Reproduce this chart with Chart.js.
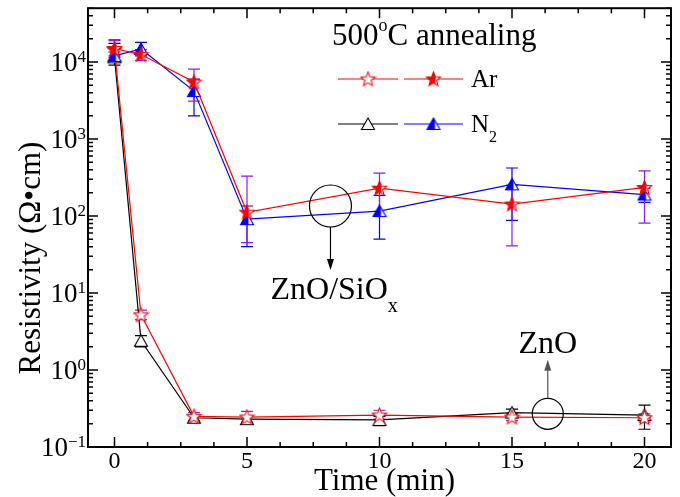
<!DOCTYPE html>
<html>
<head>
<meta charset="utf-8">
<script src="https://cdn.jsdelivr.net/npm/chart.js@4.4.0/dist/chart.umd.min.js"></script>
<style>
  html, body { margin: 0; padding: 0; background: #fff; }
  #wrap { width: 680px; height: 497px; }
</style>
</head>
<body>
<div id="wrap"><canvas id="chart"></canvas></div>
<script>
// annealing time (min)
const timeMin = [0, 1, 3, 5, 10, 15, 20];

// ZnO/SiOx films
const sioxAr     = [15000, 12500, 5500, 112, 230, 143, 235];
const sioxArLow  = [11500, 10500, 3100, 45, 100, 41, 81];
const sioxArHigh = [19500, 14500, 8100, 330, 360, 250, 385];
const sioxN2     = [12000, 14800, 4200, 91, 116, 258, 190];
const sioxN2Low  = [10500, 12000, 2000, 40, 50, 88, 150];
const sioxN2High = [13500, 18000, 6000, 135, 185, 420, 230];

// ZnO films
const znoAr     = [14500, 5.2, 0.25, 0.245, 0.26, 0.245, 0.24];
const znoArLow  = [12000, 4.5, 0.22, 0.21, 0.23, 0.22, 0.21];
const znoArHigh = [19000, 6.0, 0.28, 0.29, 0.30, 0.27, 0.27];
const znoN2     = [11500, 2.4, 0.24, 0.23, 0.225, 0.28, 0.26];
const znoN2Low  = [9100, 2.0, 0.21, 0.20, 0.19, 0.25, 0.17];
const znoN2High = [17500, 2.8, 0.26, 0.25, 0.25, 0.31, 0.35];

const xTicks = [0, 5, 10, 15, 20];
const yTickExp = [-1, 0, 1, 2, 3, 4];

const FONT = '"Liberation Serif", "Times New Roman", serif';

// marker images
function makeStar(color, mode) {
  const c = document.createElement('canvas');
  c.width = 17; c.height = 17;
  const g = c.getContext('2d');
  const path = () => {
    g.beginPath();
    for (let i = 0; i < 10; i++) {
      const r = i % 2 ? 3.3 : 7.6;
      const a = -Math.PI / 2 + i * Math.PI / 5;
      const px = 8.5 + r * Math.cos(a), py = 9 + r * Math.sin(a);
      i ? g.lineTo(px, py) : g.moveTo(px, py);
    }
    g.closePath();
  };
  path(); g.fillStyle = '#fff'; g.fill();
  if (mode === 'half') {
    g.save(); g.beginPath(); g.rect(0, 0, 10.5, 17); g.clip();
    path(); g.fillStyle = color; g.fill(); g.restore();
  }
  path(); g.strokeStyle = color; g.lineWidth = 1.1; g.stroke();
  return c;
}
function makeTri(color, mode) {
  const c = document.createElement('canvas');
  c.width = 16; c.height = 16;
  const g = c.getContext('2d');
  const path = () => {
    g.beginPath(); g.moveTo(8, 2); g.lineTo(14.5, 13.5); g.lineTo(1.5, 13.5); g.closePath();
  };
  path(); g.fillStyle = '#fff'; g.fill();
  if (mode === 'half') {
    g.save(); g.beginPath(); g.rect(0, 0, 9.5, 16); g.clip();
    path(); g.fillStyle = color; g.fill(); g.restore();
  }
  path(); g.strokeStyle = color; g.lineWidth = 1.1; g.stroke();
  return c;
}
const starOpen = makeStar('#ff0000', 'open');
const starHalf = makeStar('#ff0000', 'half');
const triOpen = makeTri('#000000', 'open');
const triHalf = makeTri('#0000ff', 'half');

const errorSets = [
  { low: znoN2Low, high: znoN2High, color: '#000000' },
  { low: znoArLow, high: znoArHigh, color: '#8a1aff' },
  { low: sioxN2Low, high: sioxN2High, color: '#0000ff' },
  { low: sioxArLow, high: sioxArHigh, color: '#8a1aff' }
];

function supText(ctx, base, sup, x, y, baseSize, supSize, rise) {
  ctx.font = baseSize + 'px ' + FONT;
  ctx.fillText(base, x, y);
  const w = ctx.measureText(base).width;
  ctx.font = supSize + 'px ' + FONT;
  ctx.fillText(sup, x + w, y - rise);
  return w + ctx.measureText(sup).width;
}

function arrow(ctx, x, y1, y2, color) {
  const dir = y2 > y1 ? 1 : -1;
  ctx.strokeStyle = color; ctx.fillStyle = color; ctx.lineWidth = 1.2;
  ctx.beginPath(); ctx.moveTo(x, y1); ctx.lineTo(x, y2 - dir * 9); ctx.stroke();
  ctx.beginPath(); ctx.moveTo(x, y2); ctx.lineTo(x - 3.5, y2 - dir * 11); ctx.lineTo(x + 3.5, y2 - dir * 11);
  ctx.closePath(); ctx.fill();
}

const decor = {
  id: 'decor',
  beforeDatasetsDraw(chart) {
    const { ctx, chartArea: a } = chart;
    const xs = chart.scales.x, ys = chart.scales.y;
    ctx.save();
    ctx.beginPath(); ctx.rect(a.left, a.top, a.right - a.left, a.bottom - a.top); ctx.clip();
    errorSets.forEach(s => {
      ctx.strokeStyle = s.color; ctx.lineWidth = 1.2;
      timeMin.forEach((t, i) => {
        const px = xs.getPixelForValue(t);
        const lo = ys.getPixelForValue(s.low[i]), hi = ys.getPixelForValue(s.high[i]);
        ctx.beginPath();
        ctx.moveTo(px, lo); ctx.lineTo(px, hi);
        ctx.moveTo(px - 6, lo); ctx.lineTo(px + 6, lo);
        ctx.moveTo(px - 6, hi); ctx.lineTo(px + 6, hi);
        ctx.stroke();
      });
    });
    ctx.restore();
  },
  afterDraw(chart) {
    const { ctx, chartArea: a } = chart;
    const xs = chart.scales.x, ys = chart.scales.y;
    ctx.save();
    ctx.fillStyle = '#000'; ctx.strokeStyle = '#000';

    // frame
    ctx.lineWidth = 2;
    ctx.strokeRect(a.left, a.top, a.right - a.left, a.bottom - a.top);

    // ticks (inward, mirrored)
    ctx.lineWidth = 1.5;
    ctx.beginPath();
    for (let v = -1.25; v <= 21; v += 1.25) {
      if (v < xs.min) continue;
      const px = xs.getPixelForValue(v);
      const len = xTicks.includes(v) ? 10 : 5;
      ctx.moveTo(px, a.bottom); ctx.lineTo(px, a.bottom - len);
      ctx.moveTo(px, a.top); ctx.lineTo(px, a.top + len);
    }
    for (let e = -1; e <= 4; e++) {
      for (let m = 1; m <= 9; m++) {
        const v = m * Math.pow(10, e);
        if (v > ys.max) continue;
        const py = ys.getPixelForValue(v);
        const len = m === 1 ? 10 : 5;
        ctx.moveTo(a.left, py); ctx.lineTo(a.left + len, py);
        ctx.moveTo(a.right, py); ctx.lineTo(a.right - len, py);
      }
    }
    ctx.stroke();

    // tick labels
    ctx.textBaseline = 'alphabetic';
    ctx.textAlign = 'center';
    ctx.font = '24px ' + FONT;
    xTicks.forEach(v => ctx.fillText(String(v), xs.getPixelForValue(v), a.bottom + 21));
    ctx.textAlign = 'left';
    yTickExp.forEach(e => {
      const py = ys.getPixelForValue(Math.pow(10, e));
      const sup = e < 0 ? '\u2212' + (-e) : String(e);
      ctx.font = '27px ' + FONT; const wb = ctx.measureText('10').width;
      ctx.font = '17px ' + FONT; const ws = ctx.measureText(sup).width;
      supText(ctx, '10', sup, a.left - 2 - wb - ws, py + 9, 27, 17, 9);
    });

    // axis titles
    ctx.textAlign = 'center';
    ctx.font = '31px ' + FONT;
    ctx.fillText('Time (min)', (a.left + a.right) / 2 + 5, a.bottom + 43);
    ctx.save();
    ctx.translate(40, 258);
    ctx.rotate(-Math.PI / 2);
    ctx.fillText('Resistivity (\u03A9\u2022cm)', 0, 0);
    ctx.restore();

    // legend
    ctx.textAlign = 'left';
    let w = supText(ctx, '500', 'o', 332, 45, 31, 18, 14);
    ctx.font = '31px ' + FONT;
    ctx.fillText('C annealing', 332 + w, 45);
    const rows = [
      { y: 79, a: ['#ff0000', starOpen], b: ['#ff0000', starHalf], label: 'Ar', sub: '' },
      { y: 124, a: ['#000000', triOpen], b: ['#0000ff', triHalf], label: 'N', sub: '2' }
    ];
    rows.forEach(r => {
      [[338, 398, r.a], [404, 463, r.b]].forEach(([x1, x2, st]) => {
        ctx.strokeStyle = st[0]; ctx.lineWidth = 1.2;
        ctx.beginPath(); ctx.moveTo(x1, r.y); ctx.lineTo(x2, r.y); ctx.stroke();
        const img = st[1];
        ctx.drawImage(img, (x1 + x2) / 2 - img.width / 2, r.y - img.height / 2);
      });
      ctx.font = '25px ' + FONT;
      ctx.fillText(r.label, 471, r.y + 8);
      if (r.sub) {
        const lw = ctx.measureText(r.label).width;
        ctx.font = '16px ' + FONT;
        ctx.fillText(r.sub, 471 + lw, r.y + 18);
      }
    });

    // annotation: ZnO/SiOx
    ctx.strokeStyle = '#000'; ctx.lineWidth = 1.2;
    let cx = xs.getPixelForValue(8.15), cy = ys.getPixelForValue(135);
    ctx.beginPath(); ctx.arc(cx, cy, 21, 0, Math.PI * 2); ctx.stroke();
    arrow(ctx, cx, cy + 21, cy + 64, '#000');
    ctx.fillStyle = '#000';
    ctx.font = '32px ' + FONT;
    ctx.fillText('ZnO/SiO', cx - 60, cy + 93);
    const zw = ctx.measureText('ZnO/SiO').width;
    ctx.font = '20px ' + FONT;
    ctx.fillText('x', cx - 60 + zw, cy + 106);

    // annotation: ZnO
    cx = xs.getPixelForValue(16.35); cy = ys.getPixelForValue(0.27);
    ctx.strokeStyle = '#000';
    ctx.beginPath(); ctx.arc(cx, cy, 15.5, 0, Math.PI * 2); ctx.stroke();
    arrow(ctx, cx, cy - 15.5, cy - 54, '#555');
    ctx.fillStyle = '#000';
    ctx.textAlign = 'center';
    ctx.font = '32px ' + FONT;
    ctx.fillText('ZnO', cx, cy - 61);

    ctx.restore();
  }
};

const ds = (label, data, color, img) => ({
  label,
  data: timeMin.map((t, i) => ({ x: t, y: data[i] })),
  borderColor: color,
  backgroundColor: color,
  borderWidth: 1.2,
  tension: 0,
  pointStyle: img,
  pointRadius: 7,
  clip: false
});

new Chart(document.getElementById('chart'), {
  type: 'line',
  data: {
    datasets: [
      ds('SiOx Ar', sioxAr, '#ff0000', starHalf),
      ds('SiOx N2', sioxN2, '#0000ff', triHalf),
      ds('ZnO Ar', znoAr, '#ff0000', starOpen),
      ds('ZnO N2', znoN2, '#000000', triOpen)
    ]
  },
  options: {
    responsive: true,
    maintainAspectRatio: false,
    animation: false,
    layout: { padding: { left: 0, right: 9, top: 7, bottom: 0 } },
    plugins: { legend: { display: false }, tooltip: { enabled: false } },
    scales: {
      x: {
        type: 'linear', min: -1, max: 21,
        grid: { display: false }, border: { display: false },
        ticks: { display: false },
        afterFit: s => { s.height = 50; }
      },
      y: {
        type: 'logarithmic', min: 0.1, max: 50000,
        grid: { display: false }, border: { display: false },
        ticks: { display: false },
        afterFit: s => { s.width = 88; }
      }
    }
  },
  plugins: [decor]
});
</script>
</body>
</html>
